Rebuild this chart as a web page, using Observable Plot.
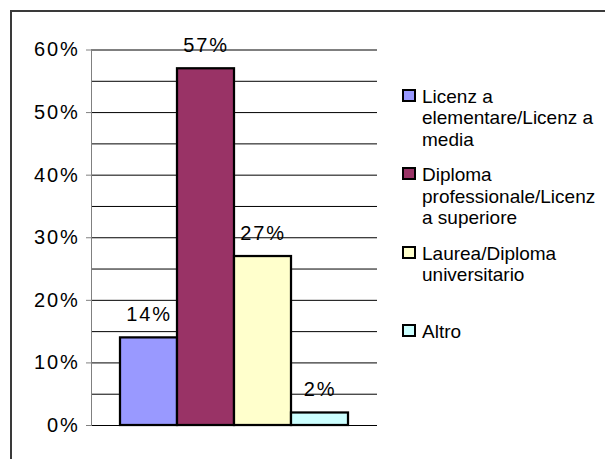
<!DOCTYPE html>
<html>
<head>
<meta charset="utf-8">
<script src="https://cdn.jsdelivr.net/npm/d3@7"></script>
<script src="https://cdn.jsdelivr.net/npm/@observablehq/plot@0.6"></script>
<style>
  html, body { margin: 0; padding: 0; background: #fff; }
  #wrap { position: relative; width: 605px; height: 459px; overflow: hidden; background: #fff; font-family: "Liberation Sans", Arial, sans-serif; }
  #frame { position: absolute; left: 10px; top: 10px; width: 700px; height: 600px; border-left: 2px solid #3a3a3a; border-top: 2px solid #3a3a3a; box-sizing: border-box; }
  #chart { position: absolute; left: 0; top: 0; }
  #chart svg text { letter-spacing: 1.8px; }
  #legend { position: absolute; left: 402px; top: 86px; color: #000; font-size: 19px; line-height: 21.4px; }
  .entry { position: relative; height: 78.3px; }
  .swatch { position: absolute; left: 0; top: 3px; width: 14px; height: 13px; box-sizing: border-box; border: 2.5px solid #000; }
  .label { margin-left: 20px; white-space: nowrap; }
</style>
</head>
<body>
<div id="wrap">
  <div id="frame"></div>
  <div id="chart"></div>
  <div id="legend"></div>
</div>
<script>
// Data
const categories = [
  "Licenza elementare/Licenza media",
  "Diploma professionale/Licenza superiore",
  "Laurea/Diploma universitario",
  "Altro"
];
const values = [0.14, 0.57, 0.27, 0.02];
const valueLabels = ["14%", "57%", "27%", "2%"];
const colors = ["#9999FF", "#993366", "#FFFFCC", "#CCFFFF"];
const legendLines = [
  ["Licenz a", "elementare/Licenz a", "media"],
  ["Diploma", "professionale/Licenz", "a superiore"],
  ["Laurea/Diploma", "universitario"],
  ["Altro"]
];
const yTicks = [0, 0.1, 0.2, 0.3, 0.4, 0.5, 0.6];
const yGrid = [0, 0.05, 0.1, 0.15, 0.2, 0.25, 0.3, 0.35, 0.4, 0.45, 0.5, 0.55, 0.6];

const data = categories.map((c, i) => ({cat: c, value: values[i], label: valueLabels[i]}));

const chart = Plot.plot({
  width: 390,
  height: 459,
  marginLeft: 91,
  marginRight: 13,
  marginTop: 49.5,
  marginBottom: 34,
  style: {fontFamily: "'Liberation Sans', Arial, sans-serif", background: "transparent", color: "#000"},
  x: {domain: categories, paddingInner: 0, paddingOuter: 0.5, axis: null},
  y: {domain: [0, 0.6], axis: null},
  color: {domain: categories, range: colors},
  marks: [
    Plot.ruleY(yGrid, {stroke: "#000", strokeWidth: 1}),
    Plot.frame({anchor: "left", stroke: "#808080", strokeWidth: 1}),
    Plot.axisY({
      ticks: yTicks,
      tickFormat: d3.format(".0%"),
      tickSize: 5,
      tickPadding: 7,
      fontSize: 20,
      stroke: "#808080",
      fill: "#000",
      label: null
    }),
    Plot.barY(data, {x: "cat", y: "value", fill: "cat", stroke: "#000", strokeWidth: 2.25}),
    Plot.text(data, {x: "cat", y: "value", text: "label", dy: -17, lineAnchor: "bottom", fontSize: 20, fill: "#000"})
  ]
});
document.getElementById("chart").appendChild(chart);

// Legend
const legend = document.getElementById("legend");
legendLines.forEach((lines, i) => {
  const entry = document.createElement("div");
  entry.className = "entry";
  const sw = document.createElement("span");
  sw.className = "swatch";
  sw.style.background = colors[i];
  entry.appendChild(sw);
  const lab = document.createElement("div");
  lab.className = "label";
  lines.forEach(t => {
    const l = document.createElement("div");
    l.textContent = t;
    lab.appendChild(l);
  });
  entry.appendChild(lab);
  legend.appendChild(entry);
});
</script>
</body>
</html>
